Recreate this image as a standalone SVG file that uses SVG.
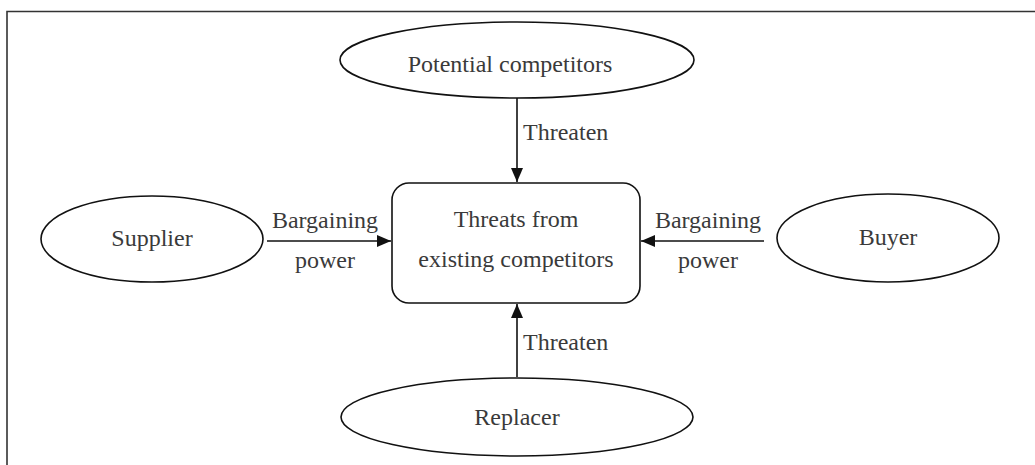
<svg xmlns="http://www.w3.org/2000/svg" width="1035" height="465" viewBox="0 0 1035 465">
<style>
.frame{fill:none;stroke:#333;stroke-width:1.6}
.node{fill:#fff;stroke:#111;stroke-width:1.6}
.edge{stroke:#111;stroke-width:1.6;fill:none}
text{font-family:"Liberation Serif","Times New Roman",serif;font-size:24px;fill:#3a3a3a}
.c{text-anchor:middle}
</style>
<defs>
<marker id="ah" markerWidth="14" markerHeight="12" refX="14" refY="6" orient="auto" markerUnits="userSpaceOnUse">
<path d="M0,0 L14,6 L0,12 Z" fill="#111"/>
</marker>
</defs>
<rect width="1035" height="465" fill="#fff"/>
<path class="frame" d="M7,470 L7,11.5 L1040,11.5"/>
<g id="connectors">
<line class="edge" x1="517" y1="98" x2="517" y2="182" marker-end="url(#ah)"/>
<text x="523" y="140">Threaten</text>
<line class="edge" x1="517" y1="377" x2="517" y2="304" marker-end="url(#ah)"/>
<text x="523" y="350">Threaten</text>
<line class="edge" x1="267" y1="241" x2="391" y2="241" marker-end="url(#ah)"/>
<text class="c" x="325" y="228">Bargaining</text>
<text class="c" x="325" y="268">power</text>
<line class="edge" x1="764" y1="241" x2="641" y2="241" marker-end="url(#ah)"/>
<text class="c" x="708" y="228">Bargaining</text>
<text class="c" x="708" y="268">power</text>
</g>
<g id="potential">
<ellipse class="node" cx="517" cy="60" rx="177" ry="38"/>
<text class="c" x="510" y="72">Potential competitors</text>
</g>
<g id="center">
<rect class="node" x="392" y="183" width="248" height="120" rx="17"/>
<text class="c" x="516" y="227">Threats from</text>
<text class="c" x="516" y="267">existing competitors</text>
</g>
<g id="supplier">
<ellipse class="node" cx="152" cy="239" rx="111" ry="43"/>
<text class="c" x="152" y="246">Supplier</text>
</g>
<g id="buyer">
<ellipse class="node" cx="888" cy="238" rx="111" ry="44"/>
<text class="c" x="888" y="245">Buyer</text>
</g>
<g id="replacer">
<ellipse class="node" cx="517" cy="417" rx="176" ry="39"/>
<text class="c" x="517" y="425">Replacer</text>
</g>
</svg>
